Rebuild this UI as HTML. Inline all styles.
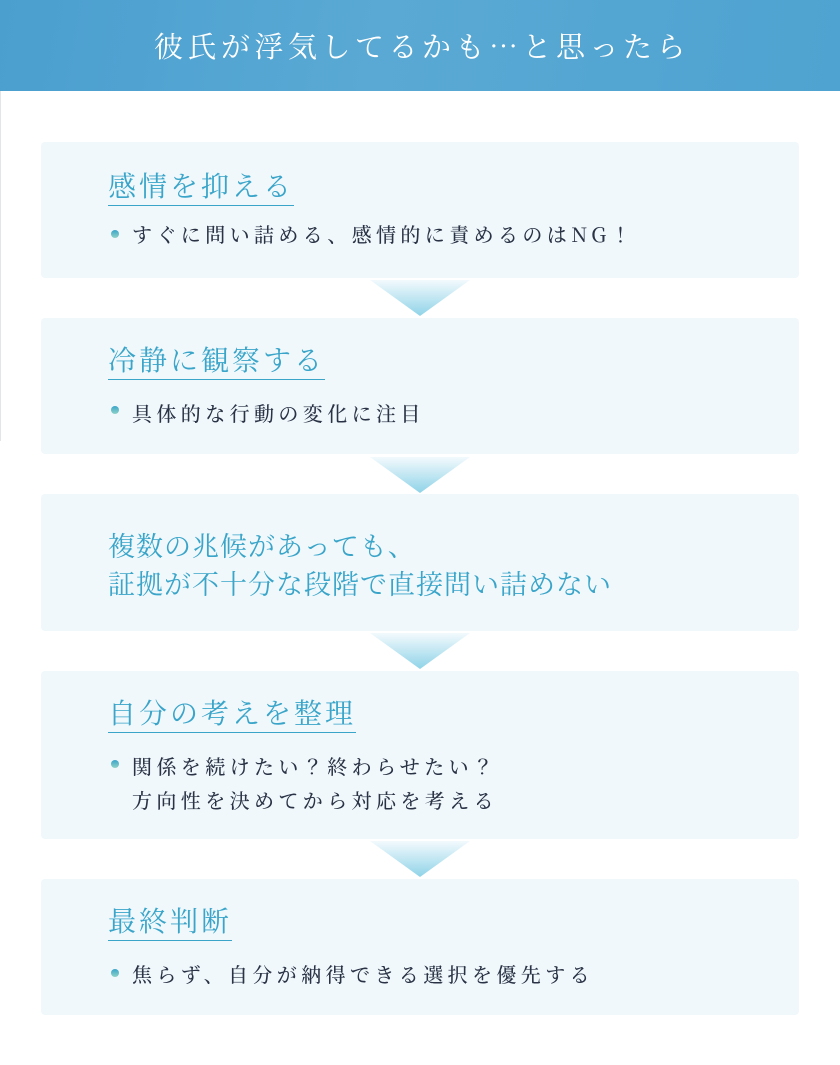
<!DOCTYPE html>
<html><head><meta charset="utf-8"><style>
*{margin:0;padding:0;box-sizing:border-box}
body{width:840px;height:1065px;background:#fff;position:relative;overflow:hidden;font-family:"Noto Serif CJK JP","Noto Serif CJK SC","Liberation Serif",serif}
.hdr{position:absolute;left:0;top:0;width:840px;height:91px;background:linear-gradient(100deg,#4a9fcf 0%,#5aa9d4 45%,#4ea3d0 100%)}
.hdr div{position:absolute;left:0;width:840px;top:26px;text-align:center;color:#fff;font-size:29px;letter-spacing:4.5px;line-height:40px;padding-left:4px}
.vl{position:absolute;left:0;top:91px;width:1px;height:350px;background:#e2e6e8}
.box{position:absolute;left:41px;width:758px;background:#f0f8fc;border-radius:4px}
.t{position:absolute;left:67px;color:#3aa5c9;font-size:28px;letter-spacing:3px;line-height:38px;white-space:nowrap;border-bottom:1.5px solid #3aa5c9;padding-bottom:1px}
.b{position:absolute;left:91px;color:#2a3345;font-size:20px;letter-spacing:4.4px;line-height:34px;white-space:nowrap;font-weight:500}
.d{position:absolute;left:70px;width:8px;height:8px;border-radius:50%;background:linear-gradient(#3aa5c9,#8fd3c8)}
.arr{position:absolute;left:370px;width:100px;height:36px;background:linear-gradient(#f3fafd,#8fd3e8);clip-path:polygon(0 0,100% 0,50% 100%)}
.big{position:absolute;left:67px;color:#3aa5c9;font-size:27px;letter-spacing:1px;line-height:38px;white-space:nowrap}
</style></head><body>
<div class="hdr"><div>彼氏が浮気してるかも…と思ったら</div></div>
<div class="vl"></div>

<div class="box" style="top:142px;height:136px">
 <div class="t" style="top:24px">感情を抑える</div>
 <div class="d" style="top:88px"></div>
 <div class="b" style="top:75px">すぐに問い詰める、感情的に責めるのはNG！</div>
</div>
<div class="arr" style="top:280px"></div>

<div class="box" style="top:318px;height:136px">
 <div class="t" style="top:22px">冷静に観察する</div>
 <div class="d" style="top:88px"></div>
 <div class="b" style="top:78px">具体的な行動の変化に注目</div>
</div>
<div class="arr" style="top:457px"></div>

<div class="box" style="top:494px;height:137px">
 <div class="big" style="top:32px">複数の兆候があっても、<br>証拠が不十分な段階で直接問い詰めない</div>
</div>
<div class="arr" style="top:633px"></div>

<div class="box" style="top:671px;height:168px">
 <div class="t" style="top:22px">自分の考えを整理</div>
 <div class="d" style="top:89px"></div>
 <div class="b" style="top:78px">関係を続けたい？終わらせたい？<br>方向性を決めてから対応を考える</div>
</div>
<div class="arr" style="top:841px"></div>

<div class="box" style="top:879px;height:136px">
 <div class="t" style="top:22px">最終判断</div>
 <div class="d" style="top:90px"></div>
 <div class="b" style="top:78px">焦らず、自分が納得できる選択を優先する</div>
</div>
</body></html>
